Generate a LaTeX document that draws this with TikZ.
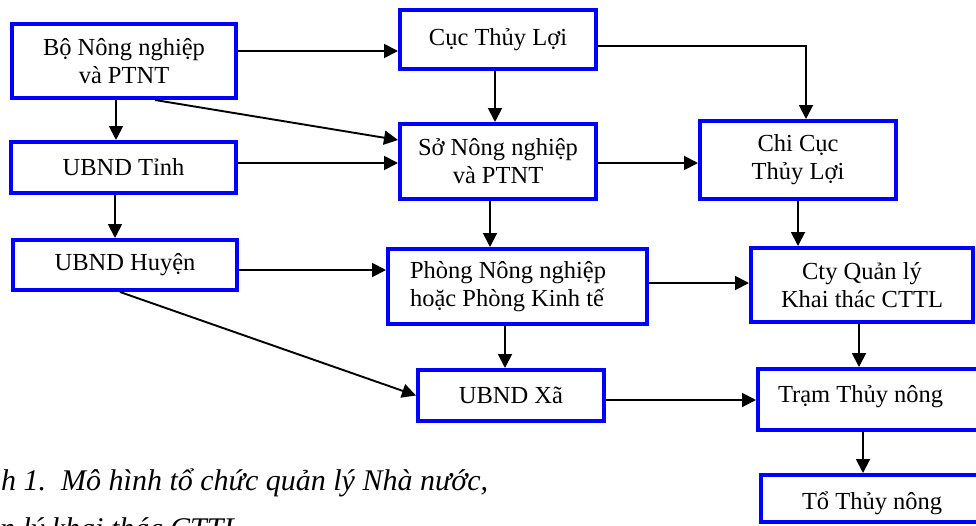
\documentclass[tikz,border=0pt]{standalone}
\usepackage{fontspec}
\setmainfont{Liberation Serif}
\usetikzlibrary{arrows.meta,calc}
\definecolor{boxblue}{RGB}{0,0,255}
\begin{document}
\begin{tikzpicture}[x=1pt,y=-1pt,
  box/.style={draw=boxblue,line width=4pt,fill=white,align=center,
    font=\fontsize{24.5}{28}\selectfont,inner sep=2pt},
  arr/.style={draw=black,line width=1.9pt,-{Triangle[length=14pt,width=14pt]}},
  captxt/.style={font=\fontsize{30}{36}\selectfont\itshape,anchor=base west,inner sep=0pt}]
\useasboundingbox (0,0) rectangle (976,525);
\clip (0,0) rectangle (976,525);
\fill[white] (0,0) rectangle (976,525);
% nodes
\node[box,minimum width=224,minimum height=74] (bo) at (124,61) {Bộ Nông nghiệp\\và PTNT};
\node[box,minimum width=225,minimum height=51] (tinh) at (123.5,167.5) {UBND Tỉnh};
\node[box,minimum width=224,minimum height=50] (huyen) at (125,265) {UBND Huyện};
\node[box,minimum width=196,minimum height=59] (cuc) at (498,39.5) {Cục Thủy Lợi};
\node[box,minimum width=196,minimum height=75] (so) at (498,161.5) {Sở Nông nghiệp\\và PTNT};
\node[box,minimum width=196,minimum height=78] (chicuc) at (798,160) {Chi Cục\\Thủy Lợi};
\node[box,minimum height=75,text width=215,inner xsep=22,align=flush left] (phong) at (517.5,286.5) {Phòng Nông nghiệp\\hoặc Phòng Kinh tế};
\node[box,minimum width=222,minimum height=74] (cty) at (862,285) {Cty Quản lý\\Khai thác CTTL};
\node[box,minimum width=186,minimum height=51] (xa) at (511,395.5) {UBND Xã};
\node[box,anchor=west,minimum height=61,text width=220,inner xsep=20,align=flush left,text height=17,text depth=12] (tram) at (756,399.5) {Trạm Thủy nông};
\node[box,anchor=west,minimum height=47,text width=200,inner xsep=41,align=flush left,text height=24,text depth=2] (to) at (759,498.5) {Tổ Thủy nông};
% caption
\node[captxt] (cap1) at (1,490) {h 1.\ \ Mô hình tổ chức quản lý Nhà nước,};
\node[captxt] (cap2) at (0,538) {n lý khai thác CTTL};
% connectors
\coordinate (a1) at ([yshift=10pt]bo.east);
\draw[arr] (a1) -- (a1 -| cuc.west);
\draw[arr] ([xshift=31pt]bo.south) -- ([yshift=21.5pt]so.west);
\coordinate (a3) at ([xshift=-8pt]bo.south);
\draw[arr] (a3) -- (a3 |- tinh.north);
\coordinate (a4) at ([yshift=4.5pt]tinh.east);
\draw[arr] (a4) -- (a4 -| so.west);
\coordinate (a5) at ([xshift=-8.5pt]tinh.south);
\draw[arr] (a5) -- (a5 |- huyen.north);
\coordinate (a6) at ([yshift=-5pt]huyen.east);
\draw[arr] (a6) -- (a6 -| phong.west);
\draw[arr] ([xshift=-5pt]huyen.south) -- (xa.west);
\coordinate (a8) at ([xshift=-3pt]cuc.south);
\draw[arr] (a8) -- (a8 |- so.north);
\draw[arr] ([yshift=-6.5pt]cuc.east) -| ([xshift=8pt]chicuc.north);
\coordinate (a10) at ([yshift=-1.5pt]so.east);
\draw[arr] (a10) -- (a10 -| chicuc.west);
\coordinate (a11) at ([xshift=-8pt]so.south);
\draw[arr] (a11) -- (a11 |- phong.north);
\draw[arr] (chicuc.south) -- (chicuc.south |- cty.north);
\coordinate (a13) at ([yshift=3.5pt]phong.east);
\draw[arr] (a13) -- (a13 -| cty.west);
\coordinate (a14) at ([xshift=-12.5pt]phong.south);
\draw[arr] (a14) -- (a14 |- xa.north);
\coordinate (a15) at ([yshift=-4.5pt]xa.east);
\draw[arr] (a15) -- (a15 -| tram.west);
\coordinate (a16) at ([xshift=-3pt]cty.south);
\draw[arr] (a16) -- (a16 |- tram.north);
\coordinate (a17) at ([xshift=1pt]cty.south);
\draw[arr] (a17 |- tram.south) -- (a17 |- to.north);
\end{tikzpicture}
\end{document}
